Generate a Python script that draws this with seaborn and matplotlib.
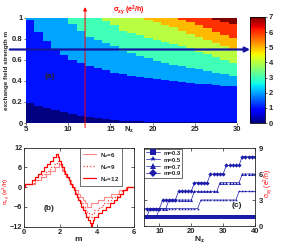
import numpy as np
import pandas as pd
import matplotlib
matplotlib.use("Agg")
import matplotlib.pyplot as plt
import seaborn as sns

sns.set_style("ticks")
plt.rcParams["font.family"] = ["Liberation Sans", "DejaVu Sans"]
plt.rcParams["font.weight"] = "bold"
plt.rcParams["mathtext.default"] = "regular"

# ---- panel (a): sigma_xy map over (Nz, m)
nz_cols = list(range(5, 30))
# m above which sigma_xy reaches 1..7 for each Nz column (1.1 = never)
thr_1 = [0.19, 0.165, 0.14, 0.12, 0.10, 0.085, 0.07, 0.055, 0.045, 0.035, 0.028, 0.022, 0.018,
         0.015, 0.012, 0.01, 0.01, 0.01, 0.01, 0.01, 0.01, 0.01, 0.01, 0.01, 0.01]
thr_2 = [0.98, 0.87, 0.78, 0.70, 0.65, 0.60, 0.57, 0.54, 0.52, 0.50, 0.48, 0.465, 0.45,
         0.44, 0.43, 0.42, 0.41, 0.40, 0.39, 0.385, 0.375, 0.37, 0.36, 0.355, 0.35]
thr_3 = [1.1, 1.1, 1.1, 1.1, 1.1, 0.94, 0.88, 0.82, 0.79, 0.76, 0.73, 0.69, 0.665,
         0.64, 0.615, 0.595, 0.575, 0.555, 0.54, 0.525, 0.51, 0.495, 0.48, 0.465, 0.45]
thr_4 = [1.1, 1.1, 1.1, 1.1, 1.1, 1.1, 1.1, 1.1, 1.1, 0.97, 0.93, 0.88, 0.86,
         0.835, 0.81, 0.79, 0.77, 0.75, 0.73, 0.71, 0.68, 0.655, 0.625, 0.60, 0.57]
thr_5 = [1.1, 1.1, 1.1, 1.1, 1.1, 1.1, 1.1, 1.1, 1.1, 1.1, 1.1, 1.1, 1.1,
         1.1, 0.98, 0.96, 0.93, 0.91, 0.88, 0.85, 0.82, 0.79, 0.76, 0.73, 0.70]
thr_6 = [1.1, 1.1, 1.1, 1.1, 1.1, 1.1, 1.1, 1.1, 1.1, 1.1, 1.1, 1.1, 1.1,
         1.1, 1.1, 1.1, 1.1, 1.1, 0.98, 0.96, 0.93, 0.90, 0.87, 0.84, 0.81]
thr_7 = [1.1, 1.1, 1.1, 1.1, 1.1, 1.1, 1.1, 1.1, 1.1, 1.1, 1.1, 1.1, 1.1,
         1.1, 1.1, 1.1, 1.1, 1.1, 1.1, 1.1, 1.1, 1.1, 0.98, 0.96, 0.94]
a_xticks = [5, 10, 15, 20, 25, 30]
a_yticks = [0, 0.2, 0.4, 0.6, 0.8, 1]
a_ylabels = ["0", "0.2", "0.4", "0.6", "0.8", "1"]
cut_nz = 12
cut_m = 0.7

# ---- panel (b): sigma_xy vs m (step curves)
b_m_6 = [0.00, 0.08, 0.65, 0.95, 1.20, 1.45, 1.70, 1.92, 2.02, 2.12, 2.22, 2.34, 2.46, 2.58,
         2.70, 2.83, 2.96, 3.09, 3.22, 3.35, 3.48, 3.70, 4.05, 4.40, 4.80, 5.20, 5.60, 6.00]
b_s_6 = [0, 1, 2, 3, 4, 5, 6, 7, 6, 5, 4, 3, 2, 1,
         0, -1, -2, -3, -4, -5, -6, -5, -4, -3, -2, -1, 0, 0]
b_m_9 = [0.00, 0.08, 0.55, 0.78, 1.00, 1.22, 1.44, 1.64, 1.84,
         1.94, 2.04, 2.14, 2.24, 2.34, 2.44, 2.54, 2.64, 2.74, 2.84, 2.94, 3.04, 3.14, 3.24,
         3.34, 3.46, 3.58, 3.72, 3.85, 4.10, 4.35, 4.60, 4.85, 5.10, 5.35, 5.60, 6.00]
b_s_9 = [0, 1, 2, 3, 4, 5, 6, 7, 8,
         7, 6, 5, 4, 3, 2, 1, 0, -1, -2, -3, -4, -5, -6,
         -7, -8, -9, -8, -7, -6, -5, -4, -3, -2, -1, 0, 0]
b_m_12 = [0.00, 0.08, 0.45, 0.62, 0.80, 0.97, 1.14, 1.30, 1.46, 1.62, 1.76,
          1.86, 1.95, 2.03, 2.12, 2.21, 2.29, 2.38, 2.47, 2.56, 2.64, 2.73, 2.82, 2.90, 2.99,
          3.08, 3.16, 3.25, 3.34, 3.43, 3.52, 3.61, 3.70,
          3.76, 3.80, 3.86, 4.05, 4.28, 4.50, 4.72, 4.92, 5.10, 5.28, 5.45, 5.62, 6.00]
b_s_12 = [0, 1, 2, 3, 4, 5, 6, 7, 8, 9, 10,
          9, 8, 7, 6, 5, 4, 3, 2, 1, 0, -1, -2, -3, -4,
          -5, -6, -7, -8, -9, -10, -11, -12,
          -11, -10, -9, -8, -7, -6, -5, -4, -3, -2, -1, 0, 0]

# ---- panel (c): sigma_xy vs Nz at fixed m
c_nz = list(range(5, 41))
c_m03 = [1, 1, 1, 1, 1, 1, 1, 1, 1, 1, 1, 1, 1, 1, 1, 1, 1, 1,
         1, 1, 1, 1, 1, 1, 1, 1, 1, 1, 1, 1, 1, 1, 1, 1, 1, 1]
c_m05 = [1, 1, 1, 1, 1, 2, 2, 2, 2, 2, 2, 2, 2, 2, 2, 2, 2, 2,
         3, 3, 3, 3, 3, 3, 3, 3, 3, 3, 3, 3, 4, 4, 4, 4, 4, 4]
c_m07 = [1, 1, 2, 2, 2, 2, 2, 2, 3, 3, 3, 3, 3, 3, 3, 3, 4, 4,
         4, 4, 4, 4, 4, 4, 5, 5, 5, 5, 5, 5, 5, 6, 6, 6, 6, 6]
c_m09 = [2, 2, 2, 2, 2, 2, 3, 3, 3, 3, 3, 4, 4, 4, 4, 4, 5, 5,
         5, 5, 5, 6, 6, 6, 6, 6, 7, 7, 7, 7, 7, 8, 8, 8, 8, 8]

red_lab = r"$\sigma_{xy}$ (e$^2$/h)"
fs = 5.5

fig = plt.figure(figsize=(2.99, 2.47), dpi=100)
W, H = 299, 247
ax_a = fig.add_axes([26 / W, 1 - 123 / H, 211 / W, 105 / H])
cax = fig.add_axes([250 / W, 1 - 123 / H, 15 / W, 106 / H])
ax_b = fig.add_axes([23.5 / W, 1 - 226.5 / H, 110 / W, 79 / H])
ax_c = fig.add_axes([143.5 / W, 1 - 226 / H, 111.5 / W, 78 / H])

# build the map table from the thresholds
n_rows = 200
m_rows = 1 - (np.arange(n_rows) + 0.5) / n_rows
grid = np.zeros((n_rows, len(nz_cols)))
for thr in [thr_1, thr_2, thr_3, thr_4, thr_5, thr_6, thr_7]:
    grid += m_rows[:, None] >= np.array(thr)[None, :]
sigma_map = pd.DataFrame(grid, index=np.round(m_rows, 4), columns=nz_cols)

sns.heatmap(sigma_map, ax=ax_a, cmap="jet", vmin=0, vmax=7, cbar_ax=cax,
            xticklabels=False, yticklabels=False, cbar_kws={"ticks": list(range(8))})
ax_a.set_xticks([v - nz_cols[0] for v in a_xticks])
ax_a.set_xticklabels([str(v) for v in a_xticks], fontsize=fs, fontweight="bold")
ax_a.set_yticks([(1 - v) * n_rows for v in a_yticks])
ax_a.set_yticklabels(a_ylabels, fontsize=fs, fontweight="bold", rotation=0)
ax_a.tick_params(length=1.5, width=0.5, pad=1)
ax_a.set_xlabel("")
ax_a.set_ylabel("exchange field strength m", fontsize=4.6, fontweight="bold", labelpad=2)
ax_a.text(0.49, -0.02, "N$_z$", transform=ax_a.transAxes, fontsize=fs, fontweight="bold",
          ha="center", va="top")
ax_a.text(2.2, (1 - 0.44) * n_rows, "(a)", fontsize=6, va="center")
cb = ax_a.collections[0].colorbar
cb.outline.set_linewidth(0.6)
cb.outline.set_edgecolor("black")
cax.tick_params(labelsize=fs, length=1.5, width=0.5, pad=1)
for t in cax.get_yticklabels():
    t.set_fontweight("bold")

# arrows marking the cuts
ax_a.annotate("", xy=(cut_nz - nz_cols[0], 1.13), xytext=(cut_nz - nz_cols[0], -0.07),
              xycoords=("data", "axes fraction"), textcoords=("data", "axes fraction"),
              arrowprops=dict(arrowstyle="-|>", color="red", lw=0.7, mutation_scale=5),
              annotation_clip=False)
ax_a.annotate("", xy=(1.075, (1 - cut_m) * n_rows), xytext=(-0.09, (1 - cut_m) * n_rows),
              xycoords=("axes fraction", "data"), textcoords=("axes fraction", "data"),
              arrowprops=dict(arrowstyle="-|>", color="#1515a0", lw=1.6, mutation_scale=7),
              annotation_clip=False)
ax_a.text(0.49, 1.075, red_lab, transform=ax_a.transAxes, color="red", fontsize=5,
          ha="center", va="center")

# panel (b)
b_sets = [("N$_z$=6", b_m_6, b_s_6, "#ff8a8a", "-", 0.8),
          ("N$_z$=9", b_m_9, b_s_9, "#ff4040", ":", 0.9),
          ("N$_z$=12", b_m_12, b_s_12, "#ff0000", "-", 0.9)]
for lab, ms, ss, col, ls, lw in b_sets:
    df = pd.DataFrame({"m": ms, "sigma": ss})
    sns.lineplot(data=df, x="m", y="sigma", ax=ax_b, color=col, linestyle=ls, lw=lw,
                 drawstyle="steps-post", estimator=None, sort=False, label=lab)
ax_b.set_xlim(0, 6)
ax_b.set_ylim(-12, 12)
ax_b.set_xticks([0, 2, 4, 6])
ax_b.set_yticks([-12, -6, 0, 6, 12])
ax_b.set_xlabel("m", fontsize=6, fontweight="bold", labelpad=0)
ax_b.set_ylabel(red_lab, color="red", fontsize=4.5)
ax_b.yaxis.set_label_coords(-0.1, 0.45)
ax_b.text(1.08, -6.4, "(b)", fontsize=6, va="center")
ax_b.legend(loc="upper left", bbox_to_anchor=(0.51, 1.0), fontsize=4.5, frameon=True,
            fancybox=False, edgecolor="black", framealpha=1, handlelength=2.2,
            borderpad=0.4, labelspacing=0.5, handletextpad=0.6, borderaxespad=0.1)
ax_b.get_legend().get_frame().set_linewidth(0.4)

# panel (c)
c_sets = [("m=0.3", c_m03, "s"), ("m=0.5", c_m05, "*"),
          ("m=0.7", c_m07, "^"), ("m=0.9", c_m09, "D")]
for lab, vals, mk in c_sets:
    df = pd.DataFrame({"Nz": c_nz, "sigma": vals})
    sns.lineplot(data=df, x="Nz", y="sigma", ax=ax_c, color="#1c1caa", lw=0.5,
                 marker=mk, markersize=2.2, markeredgewidth=0, estimator=None, label=lab)
ax_c.set_xlim(5, 40)
ax_c.set_ylim(0, 9)
ax_c.set_xticks([10, 20, 30, 40])
ax_c.set_yticks([0, 3, 6, 9])
ax_c.yaxis.tick_right()
ax_c.yaxis.set_label_position("right")
ax_c.set_xlabel("N$_z$", fontsize=6, fontweight="bold", labelpad=0)
ax_c.set_ylabel(red_lab, color="red", fontsize=4.8)
ax_c.yaxis.set_label_coords(1.065, 0.55)
ax_c.text(34.3, 2.4, "(c)", fontsize=6, va="center", ha="center")
ax_c.legend(loc="upper left", bbox_to_anchor=(0.0, 1.0), fontsize=4.3, frameon=True,
            fancybox=False, edgecolor="black", framealpha=1, handlelength=2.4,
            markerscale=1.9, borderpad=0.25, labelspacing=0.3, handletextpad=0.5,
            borderaxespad=0.15)
ax_c.get_legend().get_frame().set_linewidth(0.4)

for ax in (ax_b, ax_c):
    ax.tick_params(labelsize=fs, length=2, width=0.5, direction="in", pad=1.5,
                   top=True, right=True, left=True)
    for t in ax.get_xticklabels() + ax.get_yticklabels():
        t.set_fontweight("bold")
    for s in ax.spines.values():
        s.set_linewidth(0.6)
ax_b.tick_params(axis="y", labelsize=5.2, pad=1)
ax_c.tick_params(labelleft=False, labelright=True)
ax_c.tick_params(axis="y", pad=2.5)

fig.savefig("out.png", dpi=100)
